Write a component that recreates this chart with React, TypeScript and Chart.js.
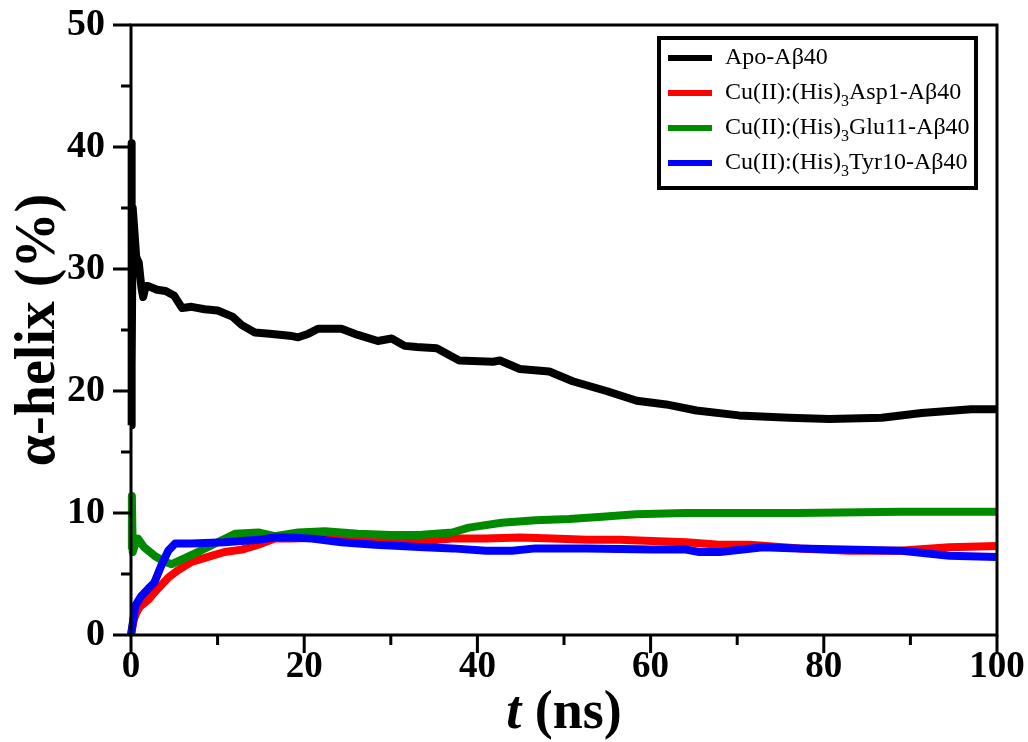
import React, { useEffect, useRef } from "react";
import { Chart, registerables } from "chart.js";

Chart.register(...registerables);

const FONT = '"Liberation Serif", "Times New Roman", serif';

// ---- data ----
const apoTime = [0, 0.05, 0.1, 0.2, 0.4, 0.6, 0.9, 1.2, 1.4, 1.7, 2, 3, 4, 5, 5.9, 7, 8.5, 10, 11.7, 12.8, 14.3, 16, 18.6, 19.3, 20.5, 21.6, 24.3, 26.2, 28.5, 30.1, 31.6, 33, 35.3, 37.9, 41.8, 42.6, 44.9, 48.3, 51, 54.9, 58.4, 61.8, 65.3, 70.2, 76, 80.6, 86.7, 91.3, 97, 100];
const apoValues = [17.2, 40.3, 22, 35, 33, 31, 30.5, 28.5, 27.7, 28.6, 28.6, 28.3, 28.2, 27.8, 26.8, 26.9, 26.7, 26.6, 26.1, 25.4, 24.8, 24.7, 24.5, 24.4, 24.7, 25.1, 25.1, 24.6, 24.1, 24.3, 23.7, 23.6, 23.5, 22.5, 22.4, 22.5, 21.8, 21.6, 20.8, 20.0, 19.2, 18.9, 18.4, 18.0, 17.8, 17.7, 17.8, 18.2, 18.5, 18.5];

const aspTime = [0, 0.3, 0.6, 1, 2, 3.1, 4.3, 5.4, 7, 8.9, 10.8, 12.8, 14.7, 16.6, 18.5, 22, 26, 30, 34, 37, 41, 44.9, 48.7, 52.6, 56.4, 60.2, 64.1, 67.9, 71.4, 77.2, 82.9, 88.7, 94.5, 100];
const aspValues = [0, 1.2, 1.8, 2.3, 2.9, 3.8, 4.7, 5.3, 6.0, 6.4, 6.8, 7.0, 7.4, 7.9, 7.9, 8.0, 7.9, 7.8, 7.7, 7.9, 7.9, 8.0, 7.9, 7.8, 7.8, 7.7, 7.6, 7.4, 7.4, 7.1, 6.9, 6.9, 7.2, 7.3];

const gluTime = [0, 0.1, 0.2, 0.5, 0.8, 1.5, 2.7, 3.9, 4.7, 5.9, 7.7, 10, 12, 14.7, 16.6, 19.3, 22.4, 26.2, 30, 33.3, 37.1, 39, 42.8, 46.7, 50.6, 54.4, 58.3, 64, 68, 77, 89, 100];
const gluValues = [7.0, 11.4, 6.8, 7.5, 7.9, 7.2, 6.5, 6.0, 5.8, 6.2, 6.8, 7.6, 8.3, 8.4, 8.1, 8.4, 8.5, 8.3, 8.2, 8.2, 8.4, 8.8, 9.2, 9.4, 9.5, 9.7, 9.9, 10.0, 10.0, 10.0, 10.1, 10.1];

const tyrTime = [0, 0.5, 1.2, 2, 2.7, 3.5, 4.3, 5.1, 7, 10.8, 14.7, 16.6, 18.5, 20.9, 24.3, 28.2, 33.9, 37.1, 41, 44, 46.7, 52.6, 60.2, 64.1, 65.6, 68, 73, 77, 89, 94.5, 100];
const tyrValues = [0, 2.4, 3.2, 3.8, 4.3, 5.7, 6.9, 7.5, 7.5, 7.6, 7.8, 8.0, 8.0, 7.9, 7.6, 7.4, 7.2, 7.1, 6.9, 6.9, 7.1, 7.1, 7.0, 7.0, 6.8, 6.8, 7.2, 7.1, 6.9, 6.5, 6.4];

const seriesLabels = ["Apo-Aβ40", "Cu(II):(His)₃Asp1-Aβ40", "Cu(II):(His)₃Glu11-Aβ40", "Cu(II):(His)₃Tyr10-Aβ40"];
const seriesColors = ["#000000", "#ff0000", "#008a00", "#0000ff"];

const xTickLabels = ["0", "20", "40", "60", "80", "100"];
const yTickLabels = ["0", "10", "20", "30", "40", "50"];
const xMinorTicks = [0, 10, 20, 30, 40, 50, 60, 70, 80, 90, 100];
const yMinorTicks = [0, 5, 10, 15, 20, 25, 30, 35, 40, 45, 50];

const yTitle = "α-helix (%)";
const xTitleItalic = "t";
const xTitleRest = " (ns)";

const toPoints = (t: number[], v: number[]) => t.map((x, i) => ({ x, y: v[i] }));

const decorPlugin = {
  id: "decor",
  afterDatasetsDraw(chart: any) {
    const { ctx, chartArea: a, scales } = chart;
    const xs = scales.x;
    const ys = scales.y;
    ctx.save();
    ctx.strokeStyle = "#000";
    ctx.lineWidth = 3;
    ctx.lineCap = "butt";
    ctx.strokeRect(a.left, a.top, a.right - a.left, a.bottom - a.top);
    ctx.beginPath();
    for (const v of yMinorTicks) {
      const p = ys.getPixelForValue(v);
      const len = v % 10 === 0 ? 18 : 10;
      ctx.moveTo(a.left, p);
      ctx.lineTo(a.left - len, p);
    }
    for (const v of xMinorTicks) {
      const p = xs.getPixelForValue(v);
      const len = v % 20 === 0 ? 18 : 10;
      ctx.moveTo(p, a.bottom);
      ctx.lineTo(p, a.bottom + len);
    }
    ctx.stroke();

    // axis titles
    ctx.fillStyle = "#000";
    ctx.textBaseline = "middle";
    ctx.save();
    ctx.translate(40, (a.top + a.bottom) / 2);
    ctx.rotate(-Math.PI / 2);
    ctx.textAlign = "center";
    ctx.font = `bold 56px ${FONT}`;
    ctx.fillText(yTitle, 0, 0);
    ctx.restore();

    ctx.textAlign = "left";
    ctx.font = `italic bold 54px ${FONT}`;
    const w1 = ctx.measureText(xTitleItalic).width;
    ctx.font = `bold 54px ${FONT}`;
    const w2 = ctx.measureText(xTitleRest).width;
    const cx = (a.left + a.right) / 2;
    const sx = cx - (w1 + w2) / 2;
    const ty = 714;
    ctx.font = `italic bold 54px ${FONT}`;
    ctx.fillText(xTitleItalic, sx, ty);
    ctx.font = `bold 54px ${FONT}`;
    ctx.fillText(xTitleRest, sx + w1, ty);

    // legend
    const lx = 659, ly = 38, lw = 317, lh = 150;
    ctx.fillStyle = "#fff";
    ctx.fillRect(lx, ly, lw, lh);
    ctx.lineWidth = 4;
    ctx.strokeRect(lx, ly, lw, lh);
    const rows = [58, 93, 128, 163];
    chart.data.datasets.forEach((ds: any, i: number) => {
      const y = rows[i];
      ctx.strokeStyle = ds.borderColor;
      ctx.lineWidth = 6;
      ctx.beginPath();
      ctx.moveTo(668, y);
      ctx.lineTo(712, y);
      ctx.stroke();
      ctx.fillStyle = "#000";
      ctx.textBaseline = "middle";
      const parts = String(ds.label).split("₃");
      let x = 725;
      ctx.font = `24px ${FONT}`;
      ctx.fillText(parts[0], x, y);
      x += ctx.measureText(parts[0]).width;
      if (parts.length > 1) {
        ctx.font = `16px ${FONT}`;
        ctx.fillText("3", x, y + 9);
        x += ctx.measureText("3").width;
        ctx.font = `24px ${FONT}`;
        ctx.fillText(parts[1], x, y);
      }
    });
    ctx.restore();
  },
};

const hiddenGrid = (tickLength: number) => ({
  display: true,
  drawOnChartArea: false,
  drawTicks: true,
  tickLength,
  color: "rgba(0,0,0,0)",
  tickColor: "rgba(0,0,0,0)",
});

export default function App() {
  const ref = useRef<HTMLCanvasElement | null>(null);
  useEffect(() => {
    if (!ref.current) return;
    const mk = (i: number, t: number[], v: number[], order: number) => ({
      label: seriesLabels[i],
      data: toPoints(t, v),
      borderColor: seriesColors[i],
      backgroundColor: seriesColors[i],
      borderWidth: 8,
      pointRadius: 0,
      tension: 0,
      fill: false,
      clip: false as any,
      borderJoinStyle: "round" as const,
      order,
    });
    const chart = new Chart(ref.current, {
      type: "line",
      data: {
        datasets: [
          mk(0, apoTime, apoValues, 3),
          mk(1, aspTime, aspValues, 2),
          mk(2, gluTime, gluValues, 1),
          mk(3, tyrTime, tyrValues, 0),
        ],
      },
      options: {
        animation: false,
        responsive: true,
        maintainAspectRatio: false,
        layout: { padding: { top: 25, right: 31, left: 0, bottom: 0 } },
        plugins: { legend: { display: false }, tooltip: { enabled: false } },
        scales: {
          x: {
            type: "linear",
            min: 0,
            max: 100,
            grid: hiddenGrid(8),
            border: { display: false },
            ticks: {
              stepSize: 20,
              color: "#000",
              padding: 2,
              font: { family: FONT, size: 37, weight: "bold" },
              callback: (v: any) => (xTickLabels.includes(String(v)) ? String(v) : ""),
              maxRotation: 0,
            },
            afterFit: (s: any) => {
              s.height = 107;
            },
          },
          y: {
            min: 0,
            max: 50,
            grid: hiddenGrid(24),
            border: { display: false },
            ticks: {
              stepSize: 10,
              color: "#000",
              padding: 2,
              font: { family: FONT, size: 38, weight: "bold" },
              callback: (v: any) => (yTickLabels.includes(String(v)) ? String(v) : ""),
            },
            afterFit: (s: any) => {
              s.width = 131;
            },
          },
        },
      },
      plugins: [decorPlugin],
    });
    return () => chart.destroy();
  }, []);
  return (
    <div style={{ position: "absolute", left: 0, top: 0, width: 1028, height: 742, background: "#fff" }}>
      <canvas ref={ref} />
    </div>
  );
}
